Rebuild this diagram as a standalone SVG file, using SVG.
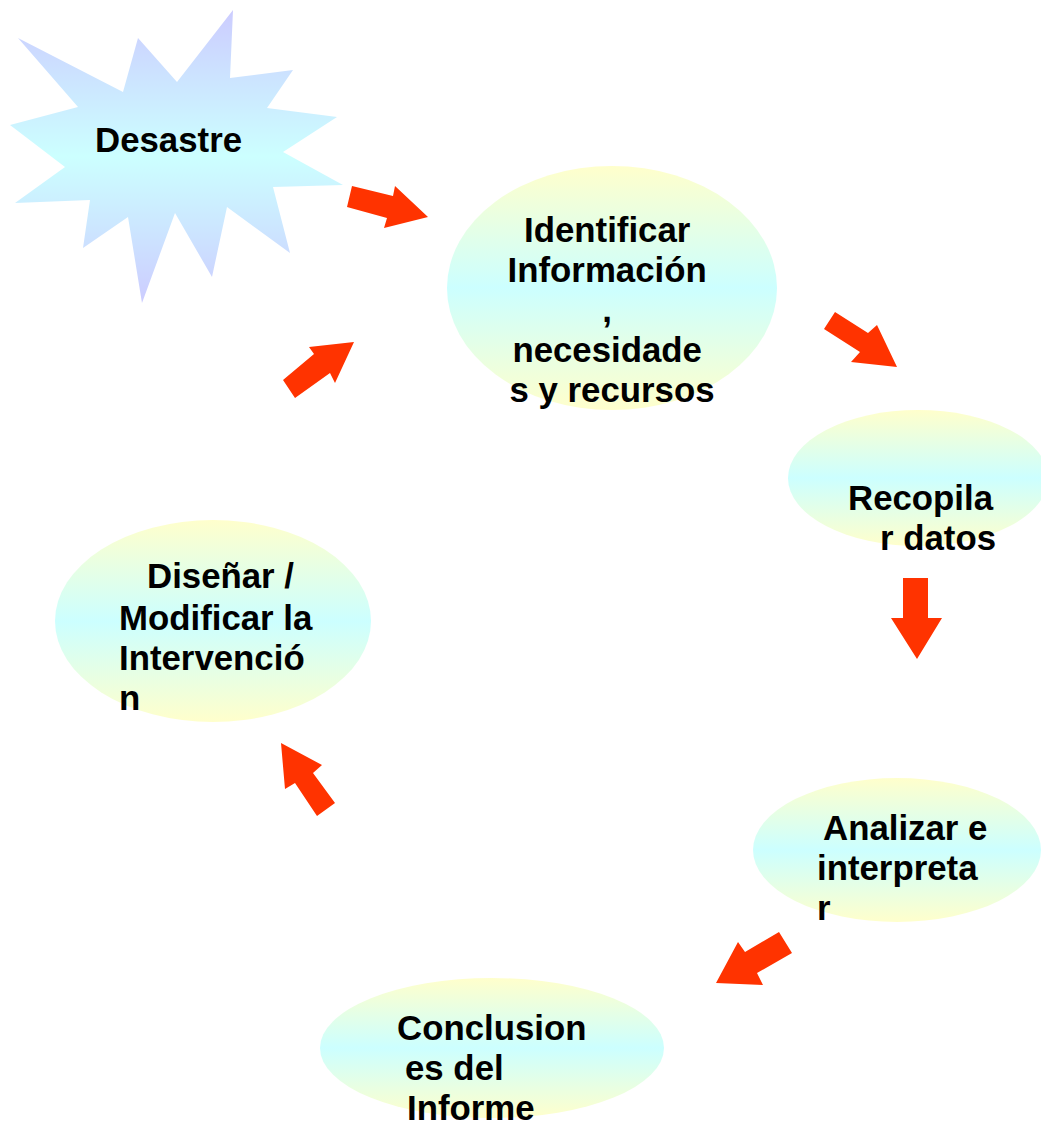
<svg xmlns="http://www.w3.org/2000/svg" width="1041" height="1127" viewBox="0 0 1041 1127">
<defs>
<linearGradient id="gEll" x1="0" y1="0" x2="0" y2="1">
<stop offset="0" stop-color="#FFFFCC"/>
<stop offset="0.5" stop-color="#CCFFFF"/>
<stop offset="1" stop-color="#FFFFCC"/>
</linearGradient>
<linearGradient id="gStar" x1="0" y1="0" x2="0" y2="1">
<stop offset="0" stop-color="#CCCCFF"/>
<stop offset="0.5" stop-color="#CCFFFF"/>
<stop offset="1" stop-color="#CCCCFF"/>
</linearGradient>
<style>
.ell{fill:url(#gEll);stroke:none}
.star{fill:url(#gStar);stroke:none}
.t{font-family:"Liberation Sans",Arial,sans-serif;font-weight:bold;font-size:34.8px;fill:#000}
.arr{fill:#FF3300;stroke:none}
</style>
</defs>
<rect width="1041" height="1127" fill="#FFFFFF"/>
<g id="desastre">
<polygon class="star" points="18,38 123,92 138,38 177,82 233,10 230,78 293,70 267,108 337,117 283,152 343,185 273,187 290,253 227,207 212,277 175,213 142,303 128,217 83,248 90,200 15,203 65,167 10,125 78,107"/>
<text class="t" x="95" y="152">Desastre</text>
</g>
<g id="identificar">
<ellipse class="ell" cx="612" cy="288" rx="165" ry="122"/>
<text class="t" text-anchor="middle">
<tspan x="612" y="242">Identificar</tspan>
<tspan x="612" y="282">Información</tspan>
<tspan x="612" y="322">,</tspan>
<tspan x="612" y="362">necesidade</tspan>
<tspan x="612" y="402">s y recursos</tspan>
</text>
</g>
<g id="recopilar">
<ellipse class="ell" cx="918" cy="478" rx="130" ry="68"/>
<text class="t"><tspan x="848" y="510">Recopila</tspan><tspan x="880" y="550">r datos</tspan></text>
</g>
<g id="analizar">
<ellipse class="ell" cx="897" cy="850" rx="144" ry="72"/>
<text class="t"><tspan x="823" y="840">Analizar e</tspan><tspan x="817" y="880">interpreta</tspan><tspan x="817" y="920">r</tspan></text>
</g>
<g id="conclusiones">
<ellipse class="ell" cx="492" cy="1048" rx="172" ry="70"/>
<text class="t"><tspan x="397" y="1040">Conclusion</tspan><tspan x="405" y="1080">es del</tspan><tspan x="407" y="1120">Informe</tspan></text>
</g>
<g id="disenar">
<ellipse class="ell" cx="213" cy="621" rx="158" ry="101"/>
<text class="t"><tspan x="147" y="588">Diseñar /</tspan><tspan x="119" y="630">Modificar la</tspan><tspan x="119" y="670">Intervenció</tspan><tspan x="119" y="710">n</tspan></text>
</g>
<g id="connectors">
<polygon class="arr" points="352,186 393,196 395,186 428,217 384,228 387,218 347,207"/>
<polygon class="arr" points="835,312 868,333 877,325 897,367 851,362 860,352 824,329"/>
<polygon class="arr" points="903,578 928,578 928,618 942,618 917,659 891,618 903,618"/>
<polygon class="arr" points="779,932 792,953 757,973 763,985 716,983 738,942 745,952"/>
<polygon class="arr" points="281,743 322,765 313,773 335,803 317,816 295,783 285,789"/>
<polygon class="arr" points="283,380 314,354 309,347 354,342 335,383 330,373 295,398"/>
</g>
</svg>
